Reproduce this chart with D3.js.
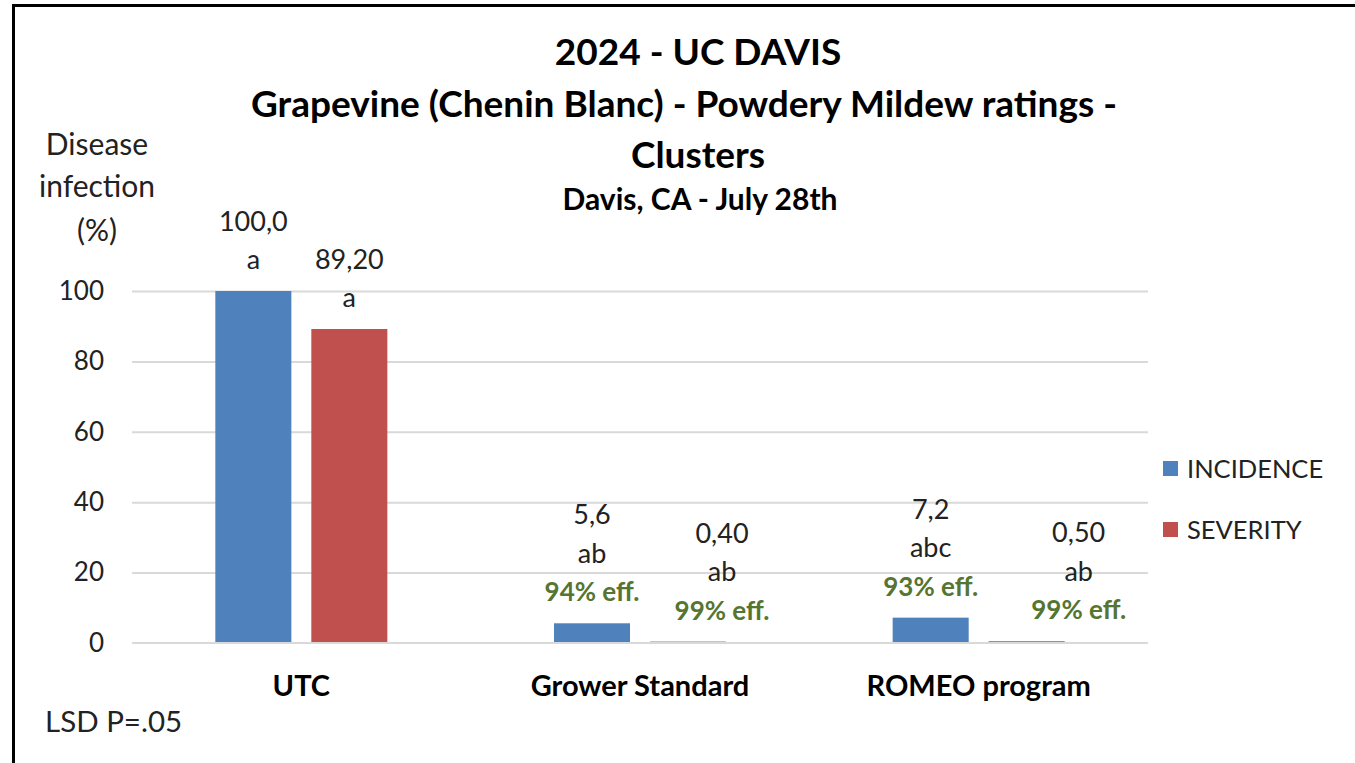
<!DOCTYPE html>
<html>
<head>
<meta charset="utf-8">
<script src="https://cdn.jsdelivr.net/npm/d3@7"></script>
<style>
  body { margin: 0; background: #fff; }
  svg text { font-family: Lato, "Open Sans", sans-serif; }
</style>
</head>
<body>
<div id="chart"></div>
<script>
// chart data
const categories = ["UTC", "Grower Standard", "ROMEO program"];
const seriesNames = ["INCIDENCE", "SEVERITY"];
const incidence = [100.0, 5.6, 7.2];
const severity = [89.2, 0.4, 0.5];
const incidenceLabels = ["100,0", "5,6", "7,2"];
const severityLabels = ["89,20", "0,40", "0,50"];
const incidenceLetters = ["a", "ab", "abc"];
const severityLetters = ["a", "ab", "ab"];
const incidenceEff = ["", "94% eff.", "93% eff."];
const severityEff = ["", "99% eff.", "99% eff."];
const yTicks = [0, 20, 40, 60, 80, 100];
const titleLines = ["2024 - UC DAVIS", "Grapevine (Chenin Blanc) - Powdery Mildew ratings -", "Clusters"];
const subtitle = "Davis, CA - July 28th";

// severity labels were dragged sideways in the original
const severityNudge = [0, 34, 52];

const colors = { INCIDENCE: "#4F81BD", SEVERITY: "#C0504D" };

const width = 1355, height = 763;

const svg = d3.select("#chart")
    .append("svg")
    .attr("width", width)
    .attr("height", height);

// frame
svg.append("rect").attr("x", 0).attr("y", 0).attr("width", width).attr("height", height).attr("fill", "#fff");
svg.append("line").attr("x1", 12).attr("x2", width).attr("y1", 5.5).attr("y2", 5.5)
    .attr("stroke", "#000").attr("stroke-width", 3);
svg.append("line").attr("x1", 13.5).attr("x2", 13.5).attr("y1", 4).attr("y2", height)
    .attr("stroke", "#000").attr("stroke-width", 3);

// titles
const titleBase = [65, 117, 168];
const titleX = [698, 684, 698];
svg.selectAll(".title")
    .data(titleLines)
    .enter().append("text")
    .attr("x", (d, i) => titleX[i])
    .attr("y", (d, i) => titleBase[i])
    .attr("text-anchor", "middle")
    .attr("font-size", 37)
    .attr("font-weight", "bold")
    .attr("fill", "#000")
    .text(d => d);

svg.append("text")
    .attr("x", 700).attr("y", 210)
    .attr("text-anchor", "middle")
    .attr("font-size", 30)
    .attr("font-weight", "bold")
    .text(subtitle);

const g = svg.append("g");

const x0 = d3.scaleBand()
    .domain(categories)
    .range([132, 1148]);

const x1 = d3.scaleBand()
    .domain(seriesNames)
    .range([0, x0.bandwidth()])
    .paddingInner(0.208)
    .paddingOuter(0.868);

const y = d3.scaleLinear()
    .domain([0, 100])
    .range([643, 291]);

// gridlines
g.append("g")
    .attr("transform", "translate(132,0)")
    .call(d3.axisLeft(y).tickValues(yTicks.filter(t => t > 0)).tickSize(-1016).tickFormat(""))
    .call(a => a.select(".domain").remove())
    .call(a => a.selectAll("line").attr("stroke", "#D9D9D9").attr("stroke-width", 2));

// y tick labels
g.append("g")
    .attr("transform", "translate(104,0)")
    .call(d3.axisLeft(y).tickValues(yTicks).tickSize(0).tickPadding(0))
    .call(a => a.select(".domain").remove())
    .call(a => a.selectAll("text")
        .attr("font-size", 26)
        .attr("fill", "#222")
        .attr("font-family", "Lato, sans-serif"));

// y axis title
const yTitleBase = [155, 197, 241];
svg.selectAll(".ytitle")
    .data(["Disease", "infection", "(%)"])
    .enter().append("text")
    .attr("x", 97)
    .attr("y", (d, i) => yTitleBase[i])
    .attr("text-anchor", "middle")
    .attr("font-size", 30)
    .attr("fill", "#222")
    .text(d => d);

// bars
const rows = categories.map((c, i) => [
    { cat: c, key: "INCIDENCE", value: incidence[i], label: incidenceLabels[i], letter: incidenceLetters[i], eff: incidenceEff[i], nudge: 0 },
    { cat: c, key: "SEVERITY", value: severity[i], label: severityLabels[i], letter: severityLetters[i], eff: severityEff[i], nudge: severityNudge[i] }
]);

const groups = g.selectAll(".grp")
    .data(rows)
    .enter().append("g")
    .attr("transform", (d, i) => `translate(${x0(categories[i])},0)`);

groups.selectAll("rect")
    .data(d => d)
    .enter().append("rect")
    .attr("x", d => x1(d.key))
    .attr("width", x1.bandwidth())
    .attr("y", d => y(d.value))
    .attr("height", d => y(0) - y(d.value))
    .attr("fill", d => colors[d.key]);

// zero line above bars
g.append("line")
    .attr("x1", 132).attr("x2", 1148)
    .attr("y1", y(0)).attr("y2", y(0))
    .attr("stroke", "#D9D9D9").attr("stroke-width", 2);

// data labels stacked above bar
groups.each(function (d) {
    const grp = d3.select(this);
    d.forEach(b => {
        const lines = [{ t: b.label, eff: false }, { t: b.letter, eff: false }];
        if (b.eff) lines.push({ t: b.eff, eff: true });
        const cx = x1(b.key) + x1.bandwidth() / 2 + b.nudge;
        const base = y(b.value) - 22;
        lines.forEach((ln, k) => {
            grp.append("text")
                .attr("x", cx)
                .attr("y", base - (lines.length - 1 - k) * 38.5)
                .attr("text-anchor", "middle")
                .attr("font-size", ln.eff ? 26 : 27)
                .attr("font-weight", ln.eff ? "bold" : "normal")
                .attr("fill", ln.eff ? "#557530" : "#222")
                .text(ln.t);
        });
    });
});

// category labels
g.selectAll(".cat")
    .data(categories)
    .enter().append("text")
    .attr("x", d => x0(d) + x0.bandwidth() / 2)
    .attr("y", 696)
    .attr("text-anchor", "middle")
    .attr("font-size", 29)
    .attr("font-weight", "bold")
    .attr("fill", "#000")
    .text(d => d);

svg.append("text")
    .attr("x", 45).attr("y", 732)
    .attr("font-size", 29.5)
    .attr("fill", "#222")
    .text("LSD P=.05");

// legend
const legend = svg.selectAll(".leg")
    .data(seriesNames)
    .enter().append("g")
    .attr("transform", (d, i) => `translate(1163,${461 + i * 61})`);

legend.append("rect")
    .attr("width", 15).attr("height", 15)
    .attr("fill", d => colors[d]);

legend.append("text")
    .attr("x", 24).attr("y", 17)
    .attr("font-size", 25.5)
    .attr("fill", "#222")
    .text(d => d);
</script>
</body>
</html>
